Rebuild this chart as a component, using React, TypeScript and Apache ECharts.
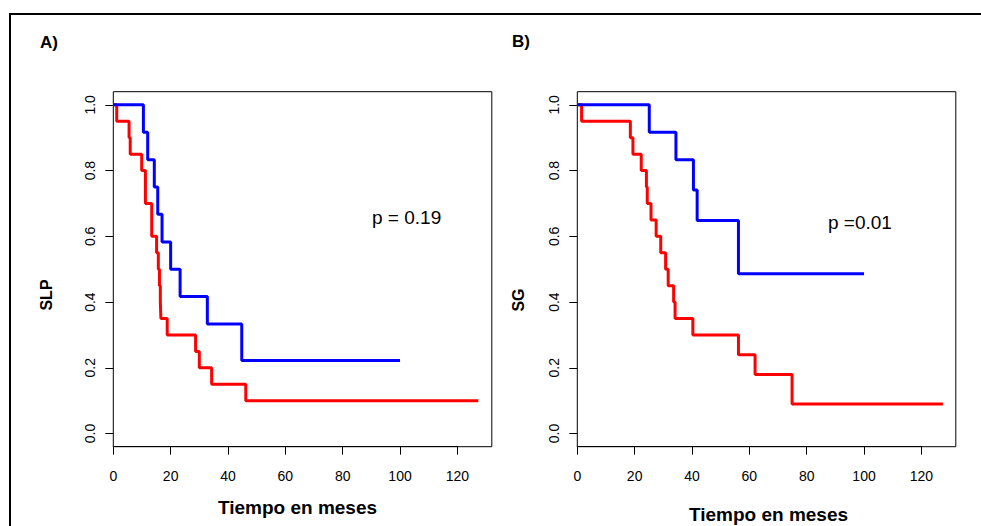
import React, { useEffect, useRef } from "react";
import * as echarts from "echarts";

// ---- Data (time in months, survival probability) ----
const slpBlueTimes = [0, 10.5, 12, 14.3, 15.5, 17, 20, 23.3, 32.8, 44.8, 100];
const slpBlueSurv = [1.0, 0.917, 0.833, 0.75, 0.667, 0.583, 0.5, 0.417, 0.333, 0.222, 0.222];
const slpRedTimes = [0, 1.2, 5.5, 5.9, 9.9, 11.2, 13.4, 15.1, 15.7, 16.1, 16.4, 16.6, 18.8, 28.7, 30, 34.3, 46.2, 127.3];
const slpRedSurv = [1.0, 0.95, 0.9, 0.85, 0.8, 0.7, 0.6, 0.55, 0.5, 0.45, 0.4, 0.35, 0.3, 0.25, 0.2, 0.15, 0.1, 0.1];

const sgBlueTimes = [0, 25.1, 34.4, 40.5, 41.8, 56.2, 100];
const sgBlueSurv = [1.0, 0.917, 0.833, 0.741, 0.648, 0.486, 0.486];
const sgRedTimes = [0, 1.5, 18.5, 19.4, 22.3, 24.1, 24.4, 25.7, 27.5, 29.1, 30.8, 31.7, 33.6, 34.1, 40.3, 56.2, 62.0, 74.9, 127.5];
const sgRedSurv = [1.0, 0.95, 0.9, 0.85, 0.8, 0.75, 0.7, 0.65, 0.6, 0.55, 0.5, 0.45, 0.4, 0.35, 0.3, 0.24, 0.18, 0.09, 0.09];

const xTicks = [0, 20, 40, 60, 80, 100, 120];
const yTicks = [0.0, 0.2, 0.4, 0.6, 0.8, 1.0];
const panelLetters = ["A)", "B)"];
const yTitles = ["SLP", "SG"];
const xTitle = "Tiempo en meses";
const pTexts = ["p = 0.19", "p =0.01"];

const FONT = "'Liberation Sans', Arial, Helvetica, sans-serif";

function pairs(t: number[], s: number[]) {
  return t.map((v, i) => [v, s[i]]);
}

export default function App() {
  const ref = useRef<HTMLDivElement>(null);
  useEffect(() => {
    document.body.style.margin = "0";
    const chart = echarts.init(ref.current!, null, { renderer: "svg" });

    const lefts = [113.3, 577.3];
    const W = 378.5;
    const top = 91.7;
    const H = 355;
    const xMax = 132;
    const yMin = -0.04;
    const yMax = 1.04;
    const tickW = (xTicks[xTicks.length - 1] / xMax) * W;
    const yTickTop = top + ((yMax - yTicks[yTicks.length - 1]) / (yMax - yMin)) * H;
    const yTickH = (1 / (yMax - yMin)) * H;

    const grids: any[] = [];
    const xAxes: any[] = [];
    const yAxes: any[] = [];
    const series: any[] = [];

    const curves = [
      [pairs(slpBlueTimes, slpBlueSurv), pairs(slpRedTimes, slpRedSurv)],
      [pairs(sgBlueTimes, sgBlueSurv), pairs(sgRedTimes, sgRedSurv)],
    ];

    lefts.forEach((L, p) => {
      const gMain = grids.length;
      grids.push({ left: L, top, width: W, height: H, show: true, borderColor: "#000", borderWidth: 1, backgroundColor: "transparent" });
      xAxes.push({ gridIndex: gMain, type: "value", min: 0, max: xMax, show: false });
      yAxes.push({ gridIndex: gMain, type: "value", min: yMin, max: yMax, show: false });
      const axIdx = xAxes.length - 1;
      const colors = ["#0000ff", "#ff0000"];
      curves[p].forEach((data, k) => {
        series.push({
          type: "line",
          xAxisIndex: axIdx,
          yAxisIndex: axIdx,
          data,
          step: "end",
          symbol: "none",
          lineStyle: { color: colors[k], width: 3 },
          z: k === 0 ? 3 : 2,
        });
      });

      // x tick axis
      const gX = grids.length;
      grids.push({ left: L, top: top + H - 1, width: tickW, height: 1, show: false });
      xAxes.push({
        gridIndex: gX, type: "value", position: "bottom", min: 0, max: 120, interval: 20,
        axisLine: { show: true, lineStyle: { color: "#000", width: 1 } },
        axisTick: { show: true, inside: false, length: 8, lineStyle: { color: "#000" } },
        axisLabel: { show: true, margin: 22, color: "#000", fontSize: 14, fontFamily: FONT },
        splitLine: { show: false },
      });
      yAxes.push({ gridIndex: gX, type: "value", show: false });

      // y tick axis
      const gY = grids.length;
      grids.push({ left: L, top: yTickTop, width: 1, height: yTickH, show: false });
      xAxes.push({ gridIndex: gY, type: "value", show: false });
      yAxes.push({
        gridIndex: gY, type: "value", position: "left", min: 0, max: 1, interval: 0.2,
        axisLine: { show: false },
        axisTick: { show: true, inside: false, length: 8, lineStyle: { color: "#000" } },
        axisLabel: { show: true, rotate: 90, margin: 16, color: "#000", fontSize: 14, fontFamily: FONT, formatter: (v: number) => v.toFixed(1) },
        splitLine: { show: false },
      });
    });

    const graphic: any[] = [
      { type: "rect", shape: { x: 10, y: 14, width: 1100, height: 700 }, style: { fill: "none", stroke: "#000", lineWidth: 2 }, z: 0 },
      { type: "text", x: 40, y: 42, style: { text: panelLetters[0], font: `bold 17px ${FONT}`, fill: "#000", verticalAlign: "middle" } },
      { type: "text", x: 512, y: 41, style: { text: panelLetters[1], font: `bold 17px ${FONT}`, fill: "#000", verticalAlign: "middle" } },
      { type: "text", x: 46, y: 295, rotation: Math.PI / 2, style: { text: yTitles[0], font: `bold 16px ${FONT}`, fill: "#000", align: "center", verticalAlign: "middle" } },
      { type: "text", x: 518, y: 300, rotation: Math.PI / 2, style: { text: yTitles[1], font: `bold 16px ${FONT}`, fill: "#000", align: "center", verticalAlign: "middle" } },
      { type: "text", x: 297.5, y: 507, style: { text: xTitle, font: `bold 19px ${FONT}`, fill: "#000", align: "center", verticalAlign: "middle" } },
      { type: "text", x: 768.5, y: 514, style: { text: xTitle, font: `bold 19px ${FONT}`, fill: "#000", align: "center", verticalAlign: "middle" } },
      { type: "text", x: 372, y: 217, style: { text: pTexts[0], font: `19px ${FONT}`, fill: "#000", align: "left", verticalAlign: "middle" } },
      { type: "text", x: 828, y: 222, style: { text: pTexts[1], font: `19px ${FONT}`, fill: "#000", align: "left", verticalAlign: "middle" } },
    ];

    chart.setOption({
      animation: false,
      backgroundColor: "#fff",
      grid: grids,
      xAxis: xAxes,
      yAxis: yAxes,
      series,
      graphic,
    });
    return () => chart.dispose();
  }, []);
  return <div ref={ref} style={{ position: "absolute", left: 0, top: 0, width: 981, height: 526 }} />;
}
